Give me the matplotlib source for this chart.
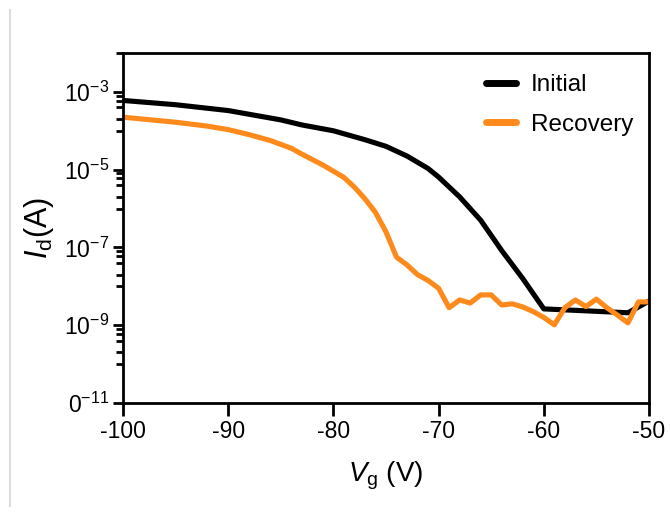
import numpy as np
import matplotlib
matplotlib.use('Agg')
import matplotlib.pyplot as plt
from matplotlib.ticker import FixedLocator, FixedFormatter
from matplotlib.lines import Line2D

plt.rcParams['font.family'] = ['Liberation Sans', 'DejaVu Sans']
plt.rcParams['mathtext.fontset'] = 'custom'
plt.rcParams['mathtext.rm'] = 'Liberation Sans'
plt.rcParams['mathtext.it'] = 'Liberation Sans:italic'

# Initial: gate voltage (V) and log10 of drain current (A)
vg_initial = [-100, -95, -90, -85, -83, -80, -77, -75, -73, -71, -70, -68,
              -66, -64, -62, -60, -52, -50]
log_id_initial = [-3.22, -3.33, -3.48, -3.72, -3.85, -4.0, -4.23, -4.40,
                  -4.65, -4.97, -5.19, -5.70, -6.30, -7.08, -7.80, -8.58,
                  -8.68, -8.38]

# Recovery
vg_recovery = [-100, -95, -92, -90, -88, -86, -84, -83, -81, -79, -78, -77,
               -76, -75, -74, -73, -72, -71, -70, -69, -68, -67, -66, -65,
               -64, -63, -62, -61, -60, -59, -58, -57, -56, -55, -54, -53,
               -52, -51, -50]
log_id_recovery = [-3.65, -3.78, -3.88, -3.97, -4.10, -4.25, -4.45, -4.60,
                   -4.88, -5.20, -5.45, -5.75, -6.10, -6.60, -7.25, -7.45,
                   -7.70, -7.85, -8.05, -8.55, -8.35, -8.43, -8.22, -8.22,
                   -8.48, -8.45, -8.53, -8.65, -8.80, -8.99, -8.55, -8.35,
                   -8.52, -8.33, -8.55, -8.74, -8.94, -8.40, -8.40]

y_major = [1e-11, 1e-9, 1e-7, 1e-5, 1e-3]
y_major_labels = ['0$^{-11}$', '10$^{-9}$', '10$^{-7}$', '10$^{-5}$', '10$^{-3}$']
x_ticks = [-100, -90, -80, -70, -60, -50]

fig = plt.figure(figsize=(6.7, 5.16), dpi=100)
ax = fig.add_axes([123 / 670, 1 - 403 / 516, (649 - 123) / 670, (403 - 53) / 516])

# faint page edge line on the left
fig.add_artist(Line2D([10 / 670, 10 / 670], [0.02, 0.98], color='#dcdcdc', lw=1.5))

ax.plot(vg_initial, 10 ** np.array(log_id_initial), color='black', lw=3.7,
        label='Initial', solid_joinstyle='round', solid_capstyle='round')
ax.plot(vg_recovery, 10 ** np.array(log_id_recovery), color='#FF8A1C', lw=3.7,
        label='Recovery', solid_joinstyle='round', solid_capstyle='round')

ax.set_yscale('log')
ax.set_xlim(-100, -50)
ax.set_ylim(1e-11, 1e-2)

ax.yaxis.set_major_locator(FixedLocator(y_major))
ax.yaxis.set_major_formatter(FixedFormatter(y_major_labels))
minor = [m * 10.0 ** e for e in [-10, -8, -6, -4] for m in [1, 2, 4, 6, 8]] + [1e-2]
ax.yaxis.set_minor_locator(FixedLocator(minor))
ax.yaxis.set_minor_formatter(FixedFormatter([''] * len(minor)))
ax.set_xticks(x_ticks)
ax.set_xticklabels([str(v) for v in x_ticks])

for s in ax.spines.values():
    s.set_linewidth(2.0)
ax.tick_params(axis='both', which='major', direction='out', length=7, width=2,
               labelsize=16.5, colors='black', pad=3)
ax.tick_params(axis='y', which='minor', direction='out', length=5, width=2)
ax.tick_params(axis='x', which='major', length=9)

ax.set_ylabel(r'$I_{\mathrm{d}}$(A)', fontsize=22, labelpad=6)
ax.set_xlabel(r'$V_{\mathrm{g}}$ (V)', fontsize=20, labelpad=12)

leg = ax.legend(loc='upper right', bbox_to_anchor=(1.0, 0.985), frameon=False,
                fontsize=17.5, handlelength=1.25, handletextpad=0.6,
                labelspacing=0.72, borderaxespad=0.25)
for h in leg.get_lines():
    h.set_linewidth(5)
    h.set_solid_capstyle('round')

fig.savefig('out.png', dpi=100)
